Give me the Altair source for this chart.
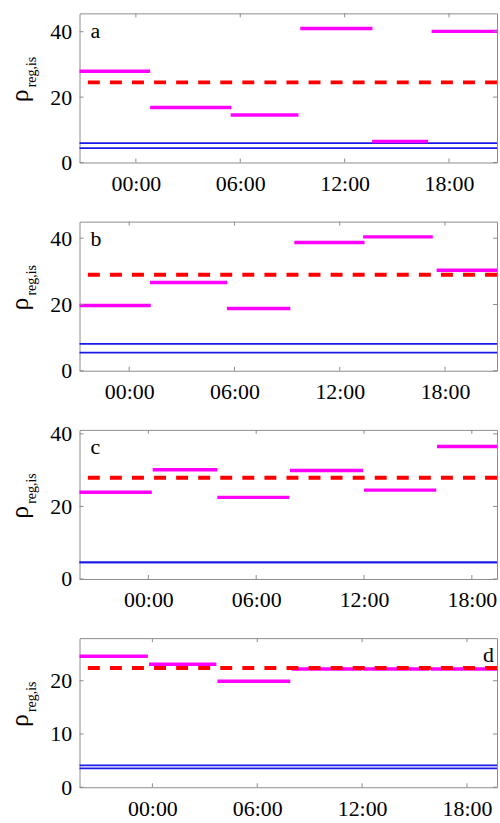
import altair as alt
import pandas as pd

# ---------------- data (hours relative to 00:00) ----------------
panel_names = ["a", "b", "c", "d"]

x_lo = {"a": -3.24, "b": -2.83, "c": -3.83, "d": -4.17}
x_hi = {"a": 20.76, "b": 20.96, "c": 19.40, "d": 19.72}
y_hi = {"a": 45.6, "b": 45.0, "c": 41.1, "d": 28.0}

seg_start = {
    "a": [-3.24, 0.82, 5.45, 9.45, 13.58, 17.0],
    "b": [-2.83, 1.19, 5.57, 9.41, 13.33, 17.52],
    "c": [-3.83, 0.24, 3.84, 7.88, 12.0, 16.06],
    "d": [-4.17, -0.19, 3.72, 7.96, 12.06, 15.93],
}
seg_end = {
    "a": [0.82, 5.49, 9.35, 13.6, 16.8, 20.76],
    "b": [1.23, 5.59, 9.18, 13.41, 17.3, 20.96],
    "c": [0.19, 3.84, 7.84, 11.95, 16.02, 19.40],
    "d": [-0.26, 3.66, 7.89, 12.0, 15.85, 19.72],
}
seg_value = {
    "a": [27.9, 16.8, 14.5, 41.0, 6.4, 40.1],
    "b": [19.7, 26.6, 18.8, 38.7, 40.4, 30.3],
    "c": [23.9, 30.1, 22.5, 29.9, 24.5, 36.5],
    "d": [24.6, 23.1, 19.9, 22.2, 22.2, 22.2],
}
red_level = {"a": [24.5], "b": [29.0], "c": [27.9], "d": [22.4]}
blue_levels = {"a": [5.9, 4.4], "b": [8.1, 5.5], "c": [4.6, 4.6], "d": [4.1, 3.55]}

x_tick_values = [0, 6, 12, 18]
y_tick_values = {"a": [0, 20, 40], "b": [0, 20, 40], "c": [0, 20, 40], "d": [0, 10, 20]}

# ---------------- style ----------------
W, H = 420, 150
FONT = "Liberation Serif"
GRAY = "#8c8c8c"
MAGENTA = "#ff00ff"
RED = "#ff0000"
BLUE = "#1a1ae6"
TICK = 4


def panel(p):
    xscale = alt.Scale(domain=[x_lo[p], x_hi[p]], nice=False, zero=False)
    yscale = alt.Scale(domain=[0, y_hi[p]], nice=False, zero=False)
    xaxis = alt.Axis(values=x_tick_values, title=None, grid=False, domain=False,
                     ticks=False, tickSize=0, labelPadding=11,
                     labelFont=FONT, labelFontSize=22, labelColor="black",
                     labelExpr="(datum.value < 10 ? '0' : '') + datum.value + ':00'")
    yaxis = alt.Axis(values=y_tick_values[p], title=None, grid=False, domain=False,
                     ticks=False, tickSize=0, labelPadding=8,
                     labelFont=FONT, labelFontSize=22, labelColor="black")

    df_seg = pd.DataFrame({"start": seg_start[p], "end": seg_end[p], "val": seg_value[p]})
    df_red = pd.DataFrame({"v": red_level[p]})
    df_blue = pd.DataFrame({"v": blue_levels[p]})
    df_xt = pd.DataFrame({"t": x_tick_values})
    df_yt = pd.DataFrame({"t": y_tick_values[p]})

    X = lambda f: alt.X(f, type="quantitative", scale=xscale, axis=xaxis)
    Y = lambda f: alt.Y(f, type="quantitative", scale=yscale, axis=yaxis)

    blue = alt.Chart(df_blue).mark_rule(color=BLUE, strokeWidth=1.8).encode(y=Y("v"))
    mag = alt.Chart(df_seg).mark_rule(color=MAGENTA, strokeWidth=3.5).encode(
        x=X("start"), x2="end", y=Y("val"))
    red = alt.Chart(df_red).mark_rule(color=RED, strokeWidth=4, strokeDash=[12, 10.2]).encode(
        y=Y("v"))

    xt_bot = alt.Chart(df_xt).mark_rule(color=GRAY, strokeWidth=1).encode(
        x=X("t"), y=alt.value(H), y2=alt.value(H - TICK))
    xt_top = alt.Chart(df_xt).mark_rule(color=GRAY, strokeWidth=1).encode(
        x=X("t"), y=alt.value(0), y2=alt.value(TICK))
    yt_left = alt.Chart(df_yt).mark_rule(color=GRAY, strokeWidth=1).encode(
        y=Y("t"), x=alt.value(0), x2=alt.value(TICK))
    yt_right = alt.Chart(df_yt).mark_rule(color=GRAY, strokeWidth=1).encode(
        y=Y("t"), x=alt.value(W), x2=alt.value(W - TICK))

    rho = alt.Chart().mark_text(text="ρ", angle=270, font=FONT, fontSize=26,
                                align="center", baseline="alphabetic", color="black").encode(
        x=alt.value(-52), y=alt.value(83))
    sub = alt.Chart().mark_text(text="reg,is", angle=270, font=FONT, fontSize=14,
                                align="center", baseline="alphabetic", color="black").encode(
        x=alt.value(-44), y=alt.value(59))

    if p == "d":
        lab = alt.Chart().mark_text(text=p, font=FONT, fontSize=22, align="right",
                                    baseline="alphabetic", color="black").encode(
            x=alt.value(W - 3), y=alt.value(24))
    else:
        lab = alt.Chart().mark_text(text=p, font=FONT, fontSize=22, align="left",
                                    baseline="alphabetic", color="black").encode(
            x=alt.value(11), y=alt.value(24.5))

    return alt.layer(blue, mag, red, xt_bot, xt_top, yt_left, yt_right, rho, sub, lab).properties(
        width=W, height=H)


chart = alt.vconcat(*[panel(p) for p in panel_names], spacing=59.5, bounds="flush").properties(
    padding={"left": 6, "top": 10, "right": 0, "bottom": 2},
    background="white",
).configure_view(
    stroke=GRAY, strokeWidth=1
)

chart.save("out.html", embed_options={"renderer": "svg", "actions": False})
